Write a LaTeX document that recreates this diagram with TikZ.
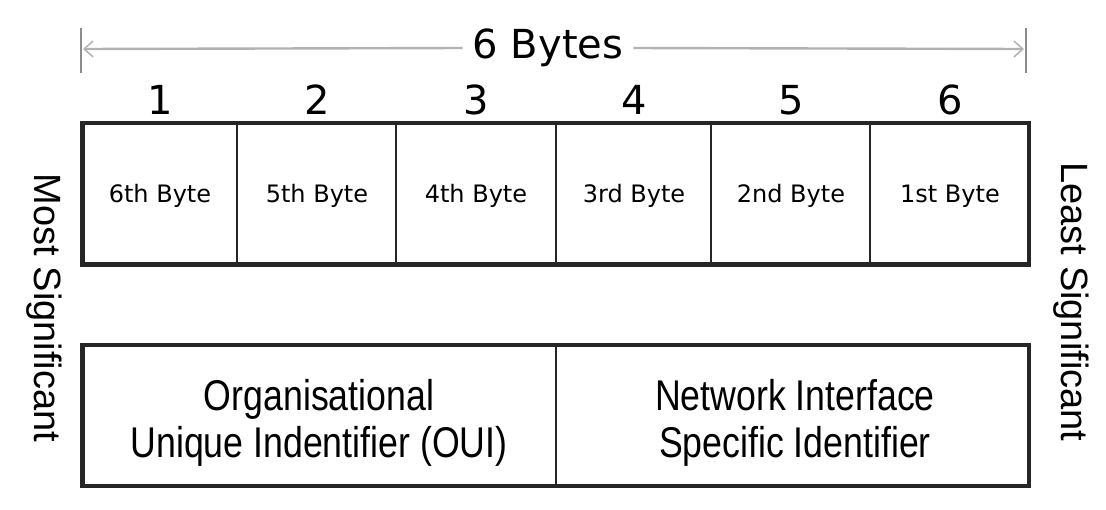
\documentclass[tikz,border=0pt]{standalone}
\usepackage{fontspec}
\setmainfont{DejaVu Sans}
\newfontfamily\sidefont{Liberation Sans}
\newfontfamily\condfont[FakeStretch=0.83]{Liberation Sans}
\usetikzlibrary{arrows.meta}
\begin{document}
\begin{tikzpicture}[x=1pt,y=-1pt,
  outer/.style={draw=black!85,line width=4.2pt},
  inner/.style={draw=black!85,line width=2.6pt},
  numlbl/.style={font=\fontsize{40}{44}\selectfont,inner sep=0pt},
  bytelbl/.style={font=\fontsize{24}{28}\selectfont,inner sep=0pt},
  sidelbl/.style={font=\sidefont\fontsize{38}{42}\selectfont,inner sep=0pt,rotate=-90},
  fieldlbl/.style={font=\condfont\fontsize{43}{48}\selectfont,inner sep=0pt,align=center},
  dimline/.style={draw=black!30,line width=2.4pt},
  tick/.style={draw=black!45,line width=2pt}]
\useasboundingbox (0,0) rectangle (1106,509);
% dimension arrow
\coordinate (tl1) at (81,28); \coordinate (tl2) at (81,73);
\coordinate (tr1) at (1026,28); \coordinate (tr2) at (1026,73);
\draw[tick] (tl1) -- (tl2);
\draw[tick] (tr1) -- (tr2);
\coordinate (al) at (83,49); \coordinate (ar) at (1024,49);
\node[numlbl,fill=white,inner xsep=10pt] (bytes) at (548,48) {6 Bytes};
\draw[dimline,-{Straight Barb[length=9pt,width=16pt,line width=1.5pt]}] (bytes.west) -- (al);
\draw[dimline,-{Straight Barb[length=9pt,width=16pt,line width=1.5pt]}] (bytes.east) -- (ar);
% top row
\draw[outer] (82.5,123) rectangle (1029,264.5);
\foreach \x in {237,396,556,711,870}{\draw[inner] (\x,123) -- (\x,264.5);}
\foreach \c/\n/\t in {160/1/6th,317/2/5th,476/3/4th,634/4/3rd,791/5/2nd,950/6/1st}{
  \node[numlbl] (n\n) at (\c,100) {\n};
  \node[bytelbl] (b\n) at (\c,196) {\t\ Byte};
}
% bottom row
\draw[outer] (82.5,345) rectangle (1029,486);
\draw[inner] (556,345) -- (556,486);
\node[fieldlbl] (oui) at (319,423) {Organisational\\[-1pt]Unique Indentifier (OUI)};
\node[fieldlbl] (nic) at (795,423) {Network Interface\\[-1pt]Specific Identifier};
% side labels
\node[sidelbl] (most) at (44,308) {Most Significant};
\node[sidelbl] (least) at (1071,302) {Least Significant};
\end{tikzpicture}
\end{document}
